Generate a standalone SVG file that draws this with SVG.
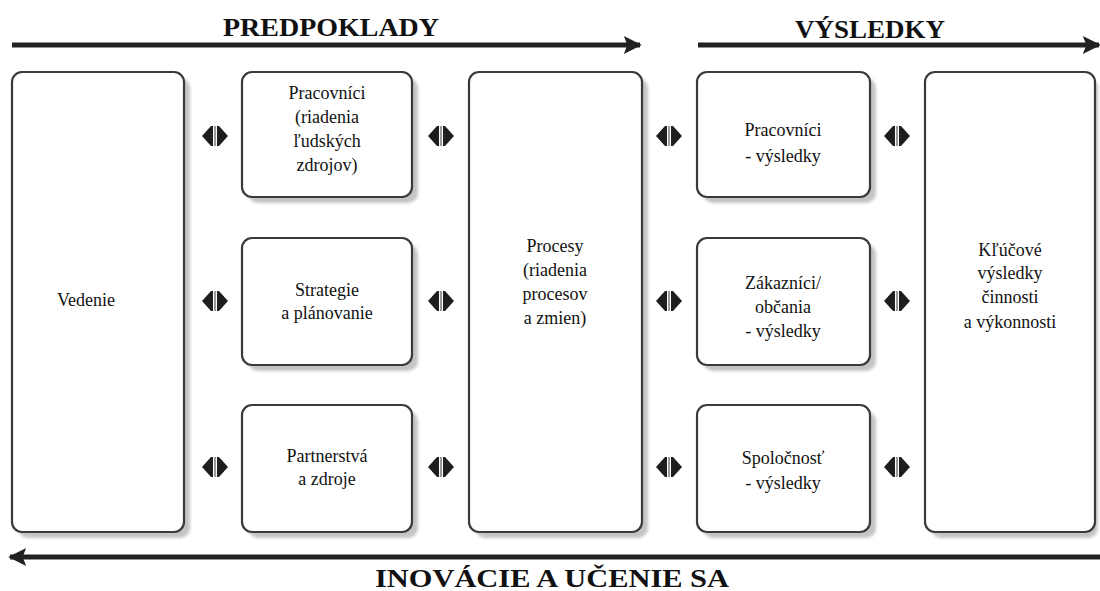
<svg xmlns="http://www.w3.org/2000/svg" width="1100" height="591" viewBox="0 0 1100 591">
  <style>
    .box { fill: #ffffff; stroke: #3a3a3a; stroke-width: 2.2; }
    .shadow { fill: #c4c4c4; }
    .lbl { font-family: "Liberation Serif", "Times New Roman", serif; font-size: 18px; fill: #111; text-anchor: middle; }
    .head { font-family: "Liberation Serif", "Times New Roman", serif; font-size: 26px; font-weight: bold; fill: #111; text-anchor: middle; }
    .flow { stroke: #222; stroke-width: 5; fill: none; }
    .tri { fill: #1e1e1e; }
    .gap { stroke: #9a9a9a; stroke-width: 2; }
  </style>
  <defs>
    <marker id="head" viewBox="0 0 10 10" refX="9" refY="5" markerWidth="4.8" markerHeight="3.6" markerUnits="strokeWidth" orient="auto">
      <path d="M0,0 L10,5 L0,10 L2,5 Z" fill="#222"/>
    </marker>
    <filter id="soft" x="-10%" y="-10%" width="130%" height="130%">
      <feGaussianBlur stdDeviation="1.5"/>
    </filter>
    <!-- two-way connector glyph, centred on 0,0 -->
    <g id="twoway">
      <polygon class="tri" points="-13,0 -4,-10 -2,-10 -2,10 -4,10"/>
      <polygon class="tri" points="13,0 4,-10 2,-10 2,10 4,10"/>
      <line class="gap" x1="0" y1="-10" x2="0" y2="10"/>
    </g>
  </defs>
  <rect width="1100" height="591" fill="#ffffff"/>

  <!-- headings and flow arrows -->
  <g id="flows">
    <text class="head" x="331" y="36" textLength="216" lengthAdjust="spacingAndGlyphs">PREDPOKLADY</text>
    <text class="head" x="870" y="38" textLength="150" lengthAdjust="spacingAndGlyphs">VÝSLEDKY</text>
    <line class="flow" x1="12" y1="45" x2="640" y2="45" marker-end="url(#head)"/>
    <line class="flow" x1="698" y1="45" x2="1099" y2="45" marker-end="url(#head)"/>
    <line class="flow" x1="1100" y1="557" x2="10" y2="557" marker-end="url(#head)"/>
    <text class="head" x="552" y="587" textLength="354" lengthAdjust="spacingAndGlyphs">INOVÁCIE A UČENIE SA</text>
  </g>

  <!-- nodes -->
  <g id="vedenie">
    <rect class="shadow" x="18" y="78" width="172" height="460" rx="10" filter="url(#soft)"/>
    <rect class="box" x="12" y="72" width="172" height="460" rx="10"/>
    <text class="lbl" x="86" y="306">Vedenie</text>
  </g>
  <g id="pracovnici">
    <rect class="shadow" x="248" y="78" width="170" height="125" rx="10" filter="url(#soft)"/>
    <rect class="box" x="242" y="72" width="170" height="125" rx="10"/>
    <text class="lbl" x="327" y="99">Pracovníci</text>
    <text class="lbl" x="327" y="123">(riadenia</text>
    <text class="lbl" x="327" y="147">ľudských</text>
    <text class="lbl" x="327" y="171">zdrojov)</text>
  </g>
  <g id="strategie">
    <rect class="shadow" x="248" y="244" width="170" height="127" rx="10" filter="url(#soft)"/>
    <rect class="box" x="242" y="238" width="170" height="127" rx="10"/>
    <text class="lbl" x="327" y="296">Strategie</text>
    <text class="lbl" x="327" y="319">a plánovanie</text>
  </g>
  <g id="partnerstva">
    <rect class="shadow" x="248" y="411" width="170" height="127" rx="10" filter="url(#soft)"/>
    <rect class="box" x="242" y="405" width="170" height="127" rx="10"/>
    <text class="lbl" x="327" y="462">Partnerstvá</text>
    <text class="lbl" x="327" y="485">a zdroje</text>
  </g>
  <g id="procesy">
    <rect class="shadow" x="475" y="78" width="173" height="460" rx="10" filter="url(#soft)"/>
    <rect class="box" x="469" y="72" width="173" height="460" rx="10"/>
    <text class="lbl" x="555" y="252">Procesy</text>
    <text class="lbl" x="555" y="276">(riadenia</text>
    <text class="lbl" x="555" y="300">procesov</text>
    <text class="lbl" x="555" y="324">a zmien)</text>
  </g>
  <g id="pracovnici-vysledky">
    <rect class="shadow" x="703" y="78" width="173" height="125" rx="10" filter="url(#soft)"/>
    <rect class="box" x="697" y="72" width="173" height="125" rx="10"/>
    <text class="lbl" x="783" y="136">Pracovníci</text>
    <text class="lbl" x="783" y="162">- výsledky</text>
  </g>
  <g id="zakaznici-vysledky">
    <rect class="shadow" x="703" y="244" width="173" height="127" rx="10" filter="url(#soft)"/>
    <rect class="box" x="697" y="238" width="173" height="127" rx="10"/>
    <text class="lbl" x="783" y="289">Zákazníci/</text>
    <text class="lbl" x="783" y="313">občania</text>
    <text class="lbl" x="783" y="337">- výsledky</text>
  </g>
  <g id="spolocnost-vysledky">
    <rect class="shadow" x="703" y="411" width="173" height="127" rx="10" filter="url(#soft)"/>
    <rect class="box" x="697" y="405" width="173" height="127" rx="10"/>
    <text class="lbl" x="783" y="464">Spoločnosť</text>
    <text class="lbl" x="783" y="489">- výsledky</text>
  </g>
  <g id="klucove-vysledky">
    <rect class="shadow" x="931" y="78" width="167" height="460" rx="10" filter="url(#soft)"/>
    <rect class="box" x="925" y="72" width="170" height="460" rx="10"/>
    <text class="lbl" x="1010" y="256">Kľúčové</text>
    <text class="lbl" x="1010" y="279">výsledky</text>
    <text class="lbl" x="1010" y="303">činnosti</text>
    <text class="lbl" x="1010" y="328">a výkonnosti</text>
  </g>

  <!-- two-way links between columns -->
  <g id="connectors">
    <use href="#twoway" x="215" y="136"/>
    <use href="#twoway" x="215" y="301"/>
    <use href="#twoway" x="215" y="467"/>
    <use href="#twoway" x="441" y="136"/>
    <use href="#twoway" x="441" y="301"/>
    <use href="#twoway" x="441" y="467"/>
    <use href="#twoway" x="669" y="136"/>
    <use href="#twoway" x="669" y="301"/>
    <use href="#twoway" x="669" y="467"/>
    <use href="#twoway" x="897" y="136"/>
    <use href="#twoway" x="897" y="301"/>
    <use href="#twoway" x="897" y="467"/>
  </g>
</svg>
